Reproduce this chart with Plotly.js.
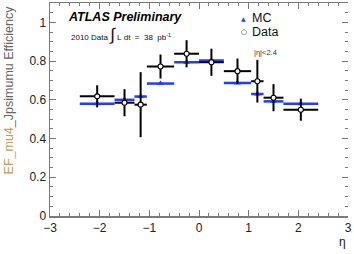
<!DOCTYPE html>
<html>
<head>
<meta charset="utf-8">
<script src="https://cdn.plot.ly/plotly-3.0.1.min.js"></script>
<style>html,body{margin:0;padding:0;background:#fff;}#chart{width:354px;height:254px;}</style>
</head>
<body>
<div id="chart"></div>
<script>
// eta bins
var etaCenters = [-2.05, -1.5, -1.175, -0.775, -0.25, 0.25, 0.775, 1.175, 1.5, 2.05];
var etaHalfWidths = [0.35, 0.2, 0.125, 0.275, 0.25, 0.25, 0.275, 0.125, 0.2, 0.35];
// MC efficiency
var mcEff = [0.580, 0.600, 0.617, 0.684, 0.794, 0.803, 0.687, 0.630, 0.592, 0.580];
var mcErr = [0.006, 0.008, 0.008, 0.006, 0.006, 0.006, 0.006, 0.012, 0.008, 0.006];
// Data efficiency
var dataEff = [0.618, 0.585, 0.575, 0.772, 0.838, 0.794, 0.748, 0.696, 0.611, 0.549];
var dataErr = [0.057, 0.070, 0.168, 0.062, 0.070, 0.070, 0.065, 0.110, 0.070, 0.057];

var blue = '#1f3dff';
var traces = [
  {
    x: etaCenters, y: mcEff, type: 'scatter', mode: 'markers', name: 'MC',
    marker: {symbol: 'triangle-up', size: 6, color: blue},
    error_x: {type: 'data', array: etaHalfWidths, color: blue, thickness: 2.5, width: 0},
    error_y: {type: 'data', array: mcErr, color: blue, thickness: 2, width: 0},
    showlegend: false, hoverinfo: 'skip'
  },
  {
    x: etaCenters, y: dataEff, type: 'scatter', mode: 'markers', name: 'Data',
    marker: {symbol: 'circle', size: 5, color: '#ffffff', line: {color: '#000', width: 1.1}},
    error_x: {type: 'data', array: etaHalfWidths, color: '#000', thickness: 2, width: 0},
    error_y: {type: 'data', array: dataErr, color: '#000', thickness: 2, width: 0},
    showlegend: false, hoverinfo: 'skip'
  }
];

var axisCol = '#7a7a7a';
var font = 'Liberation Sans, Arial, sans-serif';
var layout = {
  width: 354, height: 254,
  margin: {l: 50, r: 6, t: 3, b: 38},
  paper_bgcolor: '#fff', plot_bgcolor: '#fff',
  font: {family: font, color: '#222', size: 12},
  xaxis: {
    range: [-3, 3], dtick: 1, tick0: -3, ticks: 'inside', ticklen: 6, tickwidth: 1, tickcolor: axisCol,
    showline: true, linecolor: axisCol, linewidth: 1.5, mirror: 'ticks', zeroline: false, showgrid: false,
    minor: {dtick: 0.2, tick0: -3, ticks: 'inside', ticklen: 3, tickcolor: axisCol, showgrid: false},
    tickfont: {size: 12, color: '#222'}
  },
  yaxis: {
    range: [0, 1.1], dtick: 0.2, tick0: 0, ticks: 'inside', ticklen: 6, tickwidth: 1, tickcolor: axisCol,
    showline: true, linecolor: axisCol, linewidth: 1.5, zeroline: false, showgrid: false,
    minor: {dtick: 0.05, tick0: 0, ticks: 'inside', ticklen: 3, tickcolor: axisCol, showgrid: false},
    tickfont: {size: 12, color: '#222'},
    tickvals: [0, 0.2, 0.4, 0.6, 0.8, 1], ticktext: ['0', '0.2', '0.4', '0.6', '0.8', '1']
  },
  yaxis2: {
    overlaying: 'y', side: 'right', range: [0, 1.1], dtick: 0.2, tick0: 0,
    ticks: 'inside', ticklen: 6, tickcolor: axisCol, showline: false, showticklabels: false,
    zeroline: false, showgrid: false,
    minor: {dtick: 0.05, tick0: 0, ticks: 'inside', ticklen: 3, tickcolor: axisCol, showgrid: false}
  },
  annotations: [
    {xref: 'paper', yref: 'paper', x: -0.138, y: 1.0, xanchor: 'center', yanchor: 'top', textangle: -90,
     text: '<span style="color:#c99a55">EF_mu4</span>_Jpsimumu Efficiency', showarrow: false,
     font: {size: 12.5, color: '#666', family: font}},
    {xref: 'paper', yref: 'paper', x: 0.98, y: (216 - 242) / 213, xanchor: 'center', yanchor: 'middle',
     text: 'η', showarrow: false, font: {size: 12, color: '#222', family: font}},
    {xref: 'paper', yref: 'paper', x: (66 - 50) / 298, y: (216 - 17) / 213, xanchor: 'left', yanchor: 'middle',
     text: '<b><i>ATLAS Preliminary</i></b>', showarrow: false, font: {size: 12.5, color: '#000', family: font}},
    {xref: 'paper', yref: 'paper', x: (69 - 50) / 298, y: (216 - 35) / 213, xanchor: 'left', yanchor: 'middle',
     text: '2010 Data <span style="font-size:17px">∫</span> L&nbsp;dt&nbsp; =&nbsp; 38&nbsp; pb<sup>-1</sup>', showarrow: false,
     font: {size: 8, color: '#111', family: font}},
    {xref: 'paper', yref: 'paper', x: (244 - 50) / 298, y: (216 - 18) / 213, xanchor: 'center', yanchor: 'middle',
     text: '▲', showarrow: false, font: {size: 6, color: blue, family: 'DejaVu Sans'}},
    {xref: 'paper', yref: 'paper', x: (250 - 50) / 298, y: (216 - 18) / 213, xanchor: 'left', yanchor: 'middle',
     text: 'MC', showarrow: false, font: {size: 12.5, color: '#111', family: font}},
    {xref: 'paper', yref: 'paper', x: (244 - 50) / 298, y: (216 - 32) / 213, xanchor: 'center', yanchor: 'middle',
     text: '○', showarrow: false, font: {size: 7, color: '#111', family: 'DejaVu Sans'}},
    {xref: 'paper', yref: 'paper', x: (250 - 50) / 298, y: (216 - 32) / 213, xanchor: 'left', yanchor: 'middle',
     text: 'Data', showarrow: false, font: {size: 12.5, color: '#111', family: font}},
    {xref: 'paper', yref: 'paper', x: (252 - 50) / 298, y: (216 - 53) / 213, xanchor: 'left', yanchor: 'middle',
     text: '|η|<2.4', showarrow: false, font: {size: 7.5, color: '#333344', family: font}}
  ]
};

// attach an invisible trace to yaxis2 so the right-hand ticks are drawn
traces.push({x: [], y: [], yaxis: 'y2', type: 'scatter', mode: 'markers', showlegend: false, hoverinfo: 'skip'});

Plotly.newPlot('chart', traces, layout, {staticPlot: true, displayModeBar: false});
</script>
</body>
</html>
